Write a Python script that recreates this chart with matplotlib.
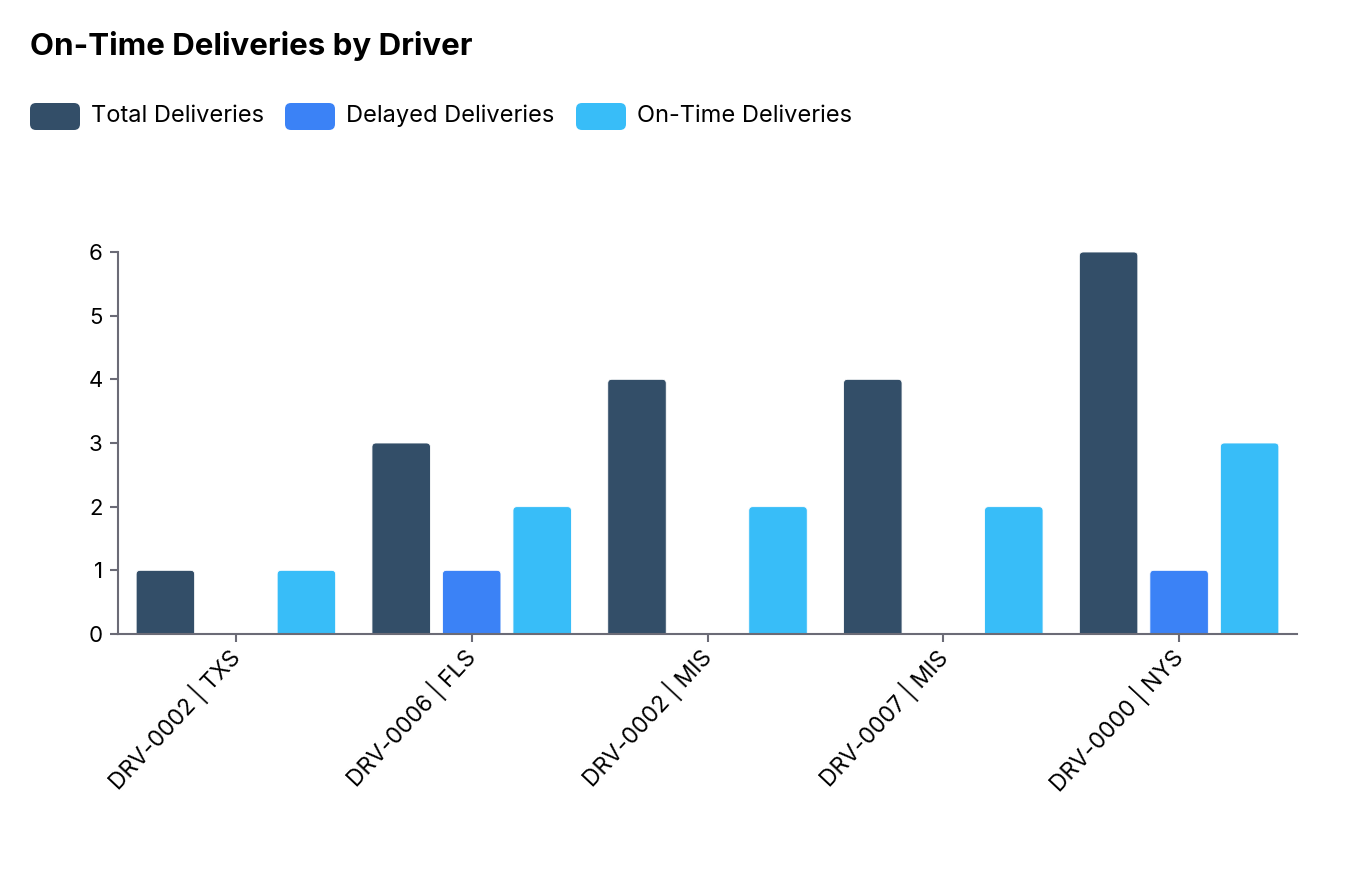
import numpy as np
import matplotlib
matplotlib.use('Agg')
import matplotlib.pyplot as plt
from matplotlib.patches import FancyBboxPatch

plt.rcParams['font.family'] = ['Inter', 'DejaVu Sans']

drivers = ['DRV-0002 | TXS', 'DRV-0006 | FLS', 'DRV-0002 | MIS', 'DRV-0007 | MIS', 'DRV-0000 | NYS']
total = [1, 3, 4, 4, 6]
delayed = [0, 1, 0, 0, 1]
on_time = [1, 2, 2, 2, 3]

series_names = ['Total Deliveries', 'Delayed Deliveries', 'On-Time Deliveries']
colors = ['#334e68', '#3b82f6', '#38bdf8']

W, H = 1372, 874
fig = plt.figure(figsize=(W / 100, H / 100), dpi=100)
# axes box in pixels: left 118, right 1297, top 252, bottom 634
ax = fig.add_axes([118 / W, 1 - 634 / H, (1297 - 118) / W, (634 - 252) / H])

x = np.arange(len(drivers))
bw = 0.248
step = 0.299
px_x = len(drivers) / (1297 - 118)   # data units per pixel
px_y = 6 / (634 - 252)
r = 4 * px_x                          # corner radius ~4 px

for i, vals in enumerate([total, delayed, on_time]):
    for xi, v in zip(x, vals):
        if v <= 0:
            continue
        left = xi + (i - 1) * step - bw / 2
        # start below 0 so only top corners look rounded
        p = FancyBboxPatch((left, -0.2), bw, v + 0.2,
                           boxstyle=f'round,pad=0,rounding_size={r}',
                           mutation_aspect=px_y / px_x,
                           facecolor=colors[i], edgecolor='white', linewidth=0.6,
                           clip_on=True)
        ax.add_patch(p)

ax.set_xlim(-0.5, len(drivers) - 0.5)
ax.set_ylim(0, 6)
ax.set_yticks(range(0, 7))
ax.set_xticks(x)
ax.set_xticklabels(drivers, rotation=47, ha='right', va='center', rotation_mode='anchor')

for s in ['top', 'right']:
    ax.spines[s].set_visible(False)
for s in ['left', 'bottom']:
    ax.spines[s].set_color('#6b6b76')
    ax.spines[s].set_linewidth(1.5)
ax.tick_params(axis='both', colors='#6b6b76', length=6, width=1.5,
               labelsize=16, labelcolor='black')
ax.tick_params(axis='x', pad=8, labelsize=16.5)
ax.tick_params(axis='y', pad=5)

fig.text(30 / W, 1 - 46 / H, 'On-Time Deliveries by Driver', fontsize=22.5,
         fontweight='bold', va='center', ha='left')

# legend
sw_x = [30, 285, 576]
for i, name in enumerate(series_names):
    sw = FancyBboxPatch((sw_x[i] / W, 1 - 130 / H), 50 / W, 27 / H,
                        boxstyle=f'round,pad=0,rounding_size={6 / W}',
                        mutation_aspect=W / H,
                        transform=fig.transFigure, facecolor=colors[i],
                        edgecolor='none')
    fig.patches.append(sw)
    fig.text((sw_x[i] + 61) / W, 1 - 116 / H, name, fontsize=17,
             va='center', ha='left')

fig.savefig('out.png', dpi=100)
